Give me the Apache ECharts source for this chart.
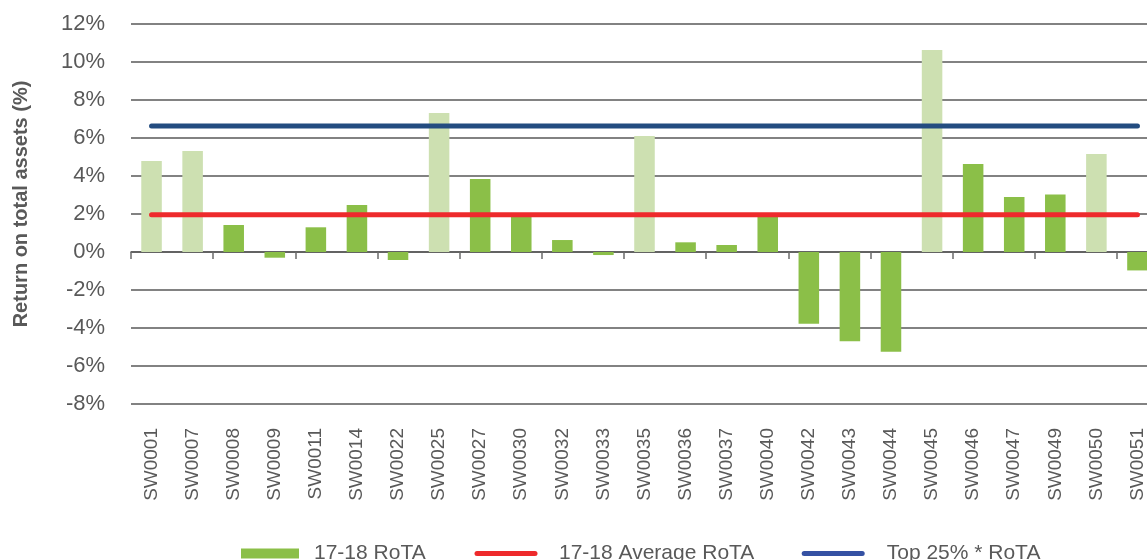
<!DOCTYPE html>
<html lang="en">
<head>
<meta charset="UTF-8">
<title>Return on total assets</title>
<script src="https://cdn.jsdelivr.net/npm/echarts@6/dist/echarts.min.js"></script>
<style>html,body{margin:0;padding:0;background:#fff;overflow:hidden}</style>
</head>
<body>
<!-- the plot runs past the right edge of the picture, so the chart is a bit wider than the window -->
<div id="main" style="width:1158px;height:560px"></div>
<script>
    const categories = ['SW0001', 'SW0007', 'SW0008', 'SW0009', 'SW0011', 'SW0014', 'SW0022', 'SW0025', 'SW0027',
        'SW0030', 'SW0032', 'SW0033', 'SW0035', 'SW0036', 'SW0037', 'SW0040', 'SW0042', 'SW0043', 'SW0044',
        'SW0045', 'SW0046', 'SW0047', 'SW0049', 'SW0050', 'SW0051']
    const rota = [4.79, 5.32, 1.42, -0.3, 1.3, 2.47, -0.42, 7.32, 3.84, 1.86, 0.63, -0.16, 6.1, 0.51, 0.37, 1.88,
        -3.77, -4.7, -5.25, 10.63, 4.63, 2.89, 3.02, 5.16, -0.97]
    // the lighter bars (top quartile)
    const topQuartile = ['SW0001', 'SW0007', 'SW0025', 'SW0035', 'SW0045', 'SW0050']
    const avgRota = 1.96
    const top25Rota = 6.63
    const yMin = -8, yMax = 12, yStep = 2

    const dark = '#8bbf48', light = '#cde0b1'
    const red = '#ee2a2c', blue = '#234c80'
    const textColor = '#595959'
    const font = 'Liberation Sans, Arial, sans-serif'
    const last = categories.length - 1
    const capsule = 'path://M2.5,0 H60.5 A2.5,2.5 0 0 1 60.5,5 H2.5 A2.5,2.5 0 0 1 2.5,0 Z'

    const myChart = echarts.init(document.getElementById('main'))

    function legendText(pad) {
        return {color: textColor, fontSize: 21, fontFamily: font, padding: [0, 0, 0, pad]}
    }

    const option = {
        animation: false,
        grid: {left: 131, top: 24, right: 0, height: 380, containLabel: false},
        legend: [
            {
                data: [{name: '17-18 RoTA', icon: 'rect', itemStyle: {color: dark}}],
                left: 241, top: 543, padding: 0, itemWidth: 58, itemHeight: 10,
                textStyle: legendText(10)
            },
            {
                data: [{name: '17-18 Average RoTA', icon: capsule, itemStyle: {color: red}}],
                left: 474.5, top: 543, padding: 0, itemWidth: 63, itemHeight: 5.5,
                textStyle: legendText(16.5)
            },
            {
                data: [{name: 'Top 25% * RoTA', icon: capsule, itemStyle: {color: '#3551a3'}}],
                left: 801.7, top: 543, padding: 0, itemWidth: 63, itemHeight: 5.5,
                textStyle: legendText(17)
            }
        ],
        xAxis: [
            {
                type: 'category',
                data: categories,
                axisLine: {onZero: true, lineStyle: {color: '#595959', width: 1.5}},
                axisTick: {show: true, length: 7, lineStyle: {color: '#6b6b6b', width: 1.5}},
                axisLabel: {show: false}
            },
            {
                type: 'category',
                data: categories,
                position: 'bottom',
                axisLine: {show: false, onZero: false},
                axisTick: {show: false},
                axisLabel: {
                    rotate: 90, margin: 24, interval: 0,
                    color: textColor, fontSize: 19, fontFamily: font
                }
            }
        ],
        yAxis: {
            type: 'value',
            min: yMin,
            max: yMax,
            interval: yStep,
            name: 'Return on total assets (%)',
            nameLocation: 'middle',
            nameGap: 100,
            nameTextStyle: {
                color: textColor, fontSize: 20, fontWeight: 'bold', fontFamily: font,
                padding: [0, 0, 0, 20]
            },
            axisLine: {show: false},
            axisTick: {show: false},
            axisLabel: {
                formatter: '{value}%', margin: 26,
                color: textColor, fontSize: 22, fontFamily: font
            },
            splitLine: {lineStyle: {color: '#595959', width: 1.5}}
        },
        series: [
            {
                name: '17-18 RoTA',
                type: 'bar',
                barWidth: '50%',
                itemStyle: {color: dark},
                data: rota.map(function (v, i) {
                    return topQuartile.indexOf(categories[i]) >= 0
                        ? {value: v, itemStyle: {color: light}}
                        : v
                })
            },
            {
                name: '17-18 Average RoTA',
                type: 'line',
                symbol: 'none',
                lineStyle: {color: red, width: 5, cap: 'round'},
                itemStyle: {color: red},
                z: 3,
                data: [[categories[0], avgRota], [categories[last], avgRota]]
            },
            {
                name: 'Top 25% * RoTA',
                type: 'line',
                symbol: 'none',
                lineStyle: {color: blue, width: 5, cap: 'round'},
                itemStyle: {color: blue},
                z: 3,
                data: [[categories[0], top25Rota], [categories[last], top25Rota]]
            }
        ]
    }
    myChart.setOption(option)
</script>
</body>
</html>
